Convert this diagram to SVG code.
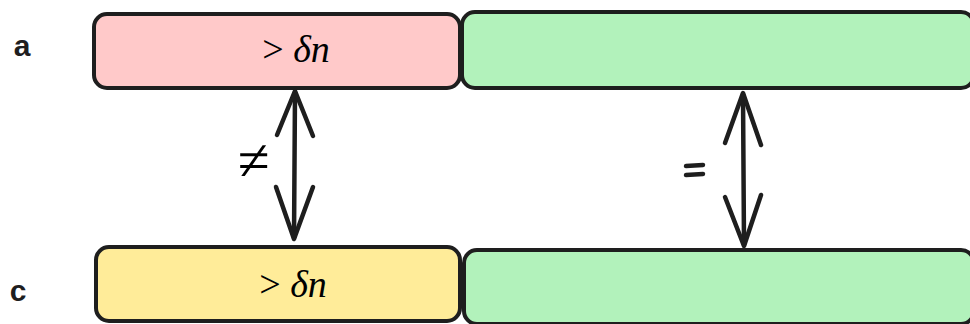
<svg xmlns="http://www.w3.org/2000/svg" width="970" height="324" viewBox="0 0 970 324">
<defs>
<style>
.box{stroke:#1e1e1e;stroke-width:4;stroke-linejoin:round}
.red{fill:#ffc9c9}.green{fill:#b2f2bb}.yellow{fill:#ffec99}
.lbl{font-family:"Liberation Sans",sans-serif;font-size:30px;font-weight:bold;fill:#1e1e1e}
.math{font-family:"Liberation Serif","DejaVu Serif",serif;font-size:38px;fill:#000}
.edge{fill:none;stroke:#1e1e1e;stroke-width:4.5;stroke-linecap:round;stroke-linejoin:round}
</style>
</defs>
<rect width="970" height="324" fill="#ffffff"/>
<g id="label-a"><text class="lbl" x="22" y="56" text-anchor="middle">a</text></g>
<g id="label-c"><text class="lbl" x="18" y="301" text-anchor="middle">c</text></g>
<g id="node-a-left">
<rect class="box red" x="94" y="14" width="366" height="74" rx="13"/>
<text class="math" x="296" y="62" text-anchor="middle">&gt; <tspan font-style="italic">δn</tspan></text>
</g>
<g id="node-a-right">
<rect class="box green" x="462" y="12" width="512" height="76" rx="13"/>
</g>
<g id="node-c-left">
<rect class="box yellow" x="96" y="247" width="364" height="74" rx="13"/>
<text class="math" x="293" y="297" text-anchor="middle">&gt; <tspan font-style="italic">δn</tspan></text>
</g>
<g id="node-c-right">
<rect class="box green" x="464" y="250" width="510" height="74" rx="13"/>
</g>
<g id="connectors">
<path class="edge" d="M295 92 L294 238"/>
<path class="edge" d="M277 135 L295 91 L313 136"/>
<path class="edge" d="M276 187 L294 239 L313 187"/>
<path class="edge" d="M743 94 L744 245"/>
<path class="edge" d="M725 143 L743 93 L761 145"/>
<path class="edge" d="M725 197 L744 246 L761 195"/>
</g>
<g id="label-neq">
<text x="254" y="180" text-anchor="middle" style="font-family:'Liberation Serif',serif;font-size:58px;fill:#000">≠</text>
</g>
<g id="label-eq">
<path class="edge" d="M686 166 L703 165 M686 175 L703 174"/>
</g>
</svg>
